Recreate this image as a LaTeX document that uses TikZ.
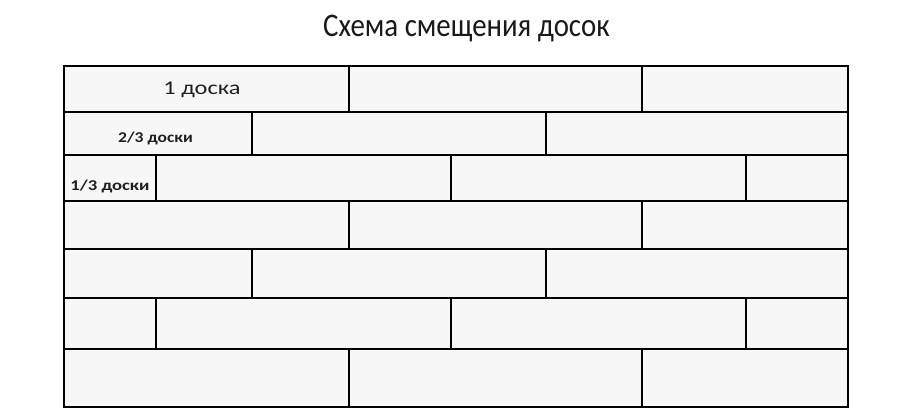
\documentclass[tikz,border=0pt]{standalone}
\usepackage{fontspec}
\setmainfont{Carlito}
\begin{document}
\begin{tikzpicture}[x=1pt,y=-1pt,
  board/.style={draw=black, line width=2pt, fill=black!3, inner sep=0pt, anchor=north west, text=black!88},
  title/.style={font=\fontsize{33}{36}\selectfont, text=black!90, inner sep=0pt, anchor=base, xscale=0.875},
  bigl/.style={font=\fontsize{19.5}{22}\selectfont, xscale=1.25, text=black!88},
  smalll/.style={font=\bfseries\fontsize{15}{18}\selectfont, text=black!88}]
\useasboundingbox (0,0) rectangle (924,414);
\node[title] (t) at (466.5,37) {Схема смещения досок};
% row 1
\node[board, minimum width=285pt, minimum height=45.7pt] (r1a) at (63,65) {};
\node[board, minimum width=293pt, minimum height=45.7pt] (r1b) at (348,65) {};
\node[board, minimum width=206pt, minimum height=45.7pt] (r1c) at (641,65) {};
% row 2
\node[board, minimum width=188pt, minimum height=43.6pt] (r2a) at (63,110.7) {};
\node[board, minimum width=294pt, minimum height=43.6pt] (r2b) at (251,110.7) {};
\node[board, minimum width=302pt, minimum height=43.6pt] (r2c) at (545,110.7) {};
% row 3
\node[board, minimum width=92pt, minimum height=46.2pt] (r3a) at (63,154.3) {};
\node[board, minimum width=295pt, minimum height=46.2pt] (r3b) at (155,154.3) {};
\node[board, minimum width=295pt, minimum height=46.2pt] (r3c) at (450,154.3) {};
\node[board, minimum width=102pt, minimum height=46.2pt] (r3d) at (745,154.3) {};
% row 4
\node[board, minimum width=285pt, minimum height=47.8pt] (r4a) at (63,200.5) {};
\node[board, minimum width=293pt, minimum height=47.8pt] (r4b) at (348,200.5) {};
\node[board, minimum width=206pt, minimum height=47.8pt] (r4c) at (641,200.5) {};
% row 5
\node[board, minimum width=188pt, minimum height=48.4pt] (r5a) at (63,248.3) {};
\node[board, minimum width=294pt, minimum height=48.4pt] (r5b) at (251,248.3) {};
\node[board, minimum width=302pt, minimum height=48.4pt] (r5c) at (545,248.3) {};
% row 6
\node[board, minimum width=92pt, minimum height=51.6pt] (r6a) at (63,296.7) {};
\node[board, minimum width=295pt, minimum height=51.6pt] (r6b) at (155,296.7) {};
\node[board, minimum width=295pt, minimum height=51.6pt] (r6c) at (450,296.7) {};
\node[board, minimum width=102pt, minimum height=51.6pt] (r6d) at (745,296.7) {};
% row 7
\node[board, minimum width=285pt, minimum height=57.4pt] (r7a) at (63,348.3) {};
\node[board, minimum width=293pt, minimum height=57.4pt] (r7b) at (348,348.3) {};
\node[board, minimum width=206pt, minimum height=57.4pt] (r7c) at (641,348.3) {};
% labels
\node[bigl] (l1) at ([xshift=-4.5pt,yshift=-1pt]r1a.center) {1 доска};
\node[smalll, xscale=1.17] (l2) at ([xshift=-2.5pt,yshift=-5pt]r2a.center) {2/3 доски};
\node[smalll, xscale=1.24] (l3) at ([xshift=0pt,yshift=-8pt]r3a.center) {1/3 доски};
\end{tikzpicture}
\end{document}
